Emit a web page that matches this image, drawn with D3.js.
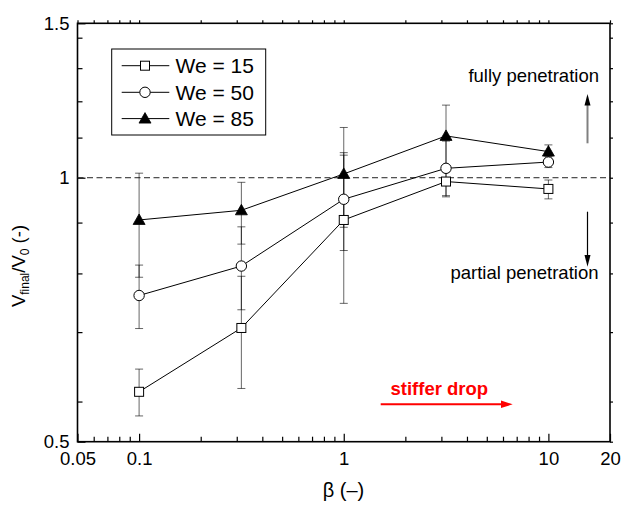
<!DOCTYPE html>
<html>
<head>
<meta charset="utf-8">
<script src="https://cdn.jsdelivr.net/npm/d3@7"></script>
<style>
  html, body { margin: 0; padding: 0; background: #fff; }
  svg { display: block; font-family: "Liberation Sans", Arial, sans-serif; }
</style>
</head>
<body>
<svg id="chart" width="621" height="507"></svg>
<script>
// Stiffness ratio beta and final/initial volume ratio for three Weber numbers
const beta = [0.1, 0.316, 1, 3.16, 10];

const we15 = [0.570, 0.674, 0.895, 0.990, 0.971];
const we15Lo = [0.535, 0.575, 0.719, 0.954, 0.946];
const we15Hi = [0.605, 0.772, 1.068, 1.025, 0.994];

const we50 = [0.734, 0.793, 0.945, 1.025, 1.042];
const we50Lo = [0.673, 0.707, 0.826, 0.951, 1.027];
const we50Hi = [0.795, 0.879, 1.061, 1.101, 1.057];

const we85 = [0.895, 0.918, 1.010, 1.116, 1.071];
const we85Lo = [0.770, 0.840, 0.878, 1.015, 1.052];
const we85Hi = [1.012, 0.988, 1.141, 1.210, 1.090];

const seriesNames = ["We = 15", "We = 50", "We = 85"];
const markerKinds = ["square", "circle", "triangle"];

const xMajor = [0.05, 0.1, 1, 10, 20];
const xMajorLabels = ["0.05", "0.1", "1", "10", "20"];
const xMinor = [0.06, 0.07, 0.08, 0.09, 0.2, 0.3, 0.4, 0.5, 0.6, 0.7, 0.8, 0.9,
                2, 3, 4, 5, 6, 7, 8, 9];
const yMajor = [0.5, 1, 1.5];
const yMajorLabels = ["0.5", "1", "1.5"];
const yMinor = [0.5556, 0.6667, 0.7778, 0.8889, 1.1111, 1.2222, 1.3333, 1.4444];

const svg = d3.select("#chart");
const L = 77.5, R = 610, T = 23.3, B = 441.7;

const x = d3.scaleLog().domain([0.05, 20]).range([L, R]);
const y = d3.scaleLog().domain([0.5, 1.5]).range([B, T]);

const fs = 18.5;

// Axes: major + minor ticks inward on bottom/left, short outward ticks on top/right
function styleAxis(g) {
  g.select(".domain").remove();
  g.selectAll("line").attr("stroke", "#000").attr("stroke-width", 1.2);
  g.selectAll("text").attr("font-size", fs).attr("fill", "#000")
    .attr("font-family", "'Liberation Sans', Arial, sans-serif");
}

svg.append("g").attr("transform", `translate(0,${B})`)
  .call(d3.axisBottom(x).tickValues(xMajor)
    .tickFormat((d, i) => xMajorLabels[i]).tickSizeInner(-8).tickSizeOuter(0).tickPadding(10))
  .call(styleAxis);
svg.append("g").attr("transform", `translate(0,${B})`)
  .call(d3.axisBottom(x).tickValues(xMinor).tickFormat("").tickSizeInner(-5).tickSizeOuter(0))
  .call(styleAxis);

svg.append("g").attr("transform", `translate(${L},0)`)
  .call(d3.axisLeft(y).tickValues(yMajor)
    .tickFormat((d, i) => yMajorLabels[i]).tickSizeInner(-8).tickSizeOuter(0).tickPadding(8))
  .call(styleAxis);
svg.append("g").attr("transform", `translate(${L},0)`)
  .call(d3.axisLeft(y).tickValues(yMinor).tickFormat("").tickSizeInner(-5).tickSizeOuter(0))
  .call(styleAxis);

svg.append("g").attr("transform", `translate(0,${T})`)
  .call(d3.axisTop(x).tickValues(xMajor.concat(xMinor)).tickFormat("").tickSizeInner(3).tickSizeOuter(0))
  .call(styleAxis);
svg.append("g").attr("transform", `translate(${R},0)`)
  .call(d3.axisRight(y).tickValues(yMajor.concat(yMinor)).tickFormat("").tickSizeInner(3).tickSizeOuter(0))
  .call(styleAxis);

// Frame
svg.append("rect").attr("x", L).attr("y", T).attr("width", R - L).attr("height", B - T)
  .attr("fill", "none").attr("stroke", "#000").attr("stroke-width", 1.6);

// Reference line at V_final/V_0 = 1
svg.append("line").attr("x1", L).attr("x2", R).attr("y1", y(1)).attr("y2", y(1))
  .attr("stroke", "#222").attr("stroke-width", 1).attr("stroke-dasharray", "6,3.5");

const series = [
  { v: we15, lo: we15Lo, hi: we15Hi },
  { v: we50, lo: we50Lo, hi: we50Hi },
  { v: we85, lo: we85Lo, hi: we85Hi }
];

// Error bars
const eb = svg.append("g").attr("stroke", "#000").attr("stroke-opacity", 0.6).attr("stroke-width", 1);
series.forEach(s => {
  beta.forEach((b, i) => {
    const cx = x(b);
    eb.append("line").attr("x1", cx).attr("x2", cx).attr("y1", y(s.lo[i])).attr("y2", y(s.hi[i]));
    [s.lo[i], s.hi[i]].forEach(e => {
      eb.append("line").attr("x1", cx - 4).attr("x2", cx + 4).attr("y1", y(e)).attr("y2", y(e));
    });
  });
});

// Connecting lines
const line = d3.line().x((d, i) => x(beta[i])).y(d => y(d));
series.forEach(s => {
  svg.append("path").datum(s.v).attr("d", line)
    .attr("fill", "none").attr("stroke", "#000").attr("stroke-width", 1);
});

function drawMarker(g, kind, cx, cy) {
  if (kind === "square") {
    g.append("rect").attr("x", cx - 4.5).attr("y", cy - 4.5).attr("width", 9).attr("height", 9)
      .attr("fill", "#fff").attr("stroke", "#000").attr("stroke-width", 1);
  } else if (kind === "circle") {
    g.append("circle").attr("cx", cx).attr("cy", cy).attr("r", 5.2)
      .attr("fill", "#fff").attr("stroke", "#000").attr("stroke-width", 1);
  } else {
    g.append("path").attr("d", `M${cx},${cy - 6} L${cx + 6},${cy + 4.5} L${cx - 6},${cy + 4.5} Z`)
      .attr("fill", "#000").attr("stroke", "#000").attr("stroke-width", 0.8);
  }
}

const mk = svg.append("g");
series.forEach((s, k) => {
  s.v.forEach((v, i) => drawMarker(mk, markerKinds[k], x(beta[i]), y(v)));
});

// Legend
const lg = svg.append("g");
lg.append("rect").attr("x", 111.7).attr("y", 49).attr("width", 154).attr("height", 86)
  .attr("fill", "#fff").attr("stroke", "#000").attr("stroke-width", 1);
const legendY = [65.7, 92.3, 118.6];
seriesNames.forEach((name, k) => {
  const ly = legendY[k];
  lg.append("line").attr("x1", 121.7).attr("x2", 169.3).attr("y1", ly).attr("y2", ly)
    .attr("stroke", "#000").attr("stroke-width", 1);
  drawMarker(lg, markerKinds[k], 145, ly);
  lg.append("text").attr("x", 175.5).attr("y", ly + 7.5).attr("font-size", 21)
    .attr("fill", "#000").text(name);
});

// Annotations
svg.append("text").attr("x", 599).attr("y", 82).attr("text-anchor", "end")
  .attr("font-size", fs).attr("fill", "#000").text("fully penetration");
svg.append("text").attr("x", 598.5).attr("y", 279).attr("text-anchor", "end")
  .attr("font-size", fs).attr("fill", "#000").text("partial penetration");

const ax = 587.5;
svg.append("line").attr("x1", ax).attr("x2", ax).attr("y1", 143.3).attr("y2", 104)
  .attr("stroke", "#808080").attr("stroke-width", 2);
svg.append("path").attr("d", `M${ax},94 L${ax + 3},105.5 L${ax - 3},105.5 Z`).attr("fill", "#000");
svg.append("line").attr("x1", ax).attr("x2", ax).attr("y1", 211.7).attr("y2", 256)
  .attr("stroke", "#000").attr("stroke-width", 1.2);
svg.append("path").attr("d", `M${ax},266.7 L${ax + 3},255 L${ax - 3},255 Z`).attr("fill", "#000");

svg.append("text").attr("x", 390.5).attr("y", 395).attr("font-size", fs)
  .attr("font-weight", "bold").attr("fill", "#ff0000").text("stiffer drop");
svg.append("line").attr("x1", 380.7).attr("x2", 503).attr("y1", 404.3).attr("y2", 404.3)
  .attr("stroke", "#ff0000").attr("stroke-width", 2);
svg.append("path").attr("d", `M512.7,404.3 L501,400.6 L501,408 Z`).attr("fill", "#ff0000");

// Axis titles
const yt = svg.append("text").attr("transform", "translate(25,266) rotate(-90)")
  .attr("text-anchor", "middle").attr("font-size", fs).attr("fill", "#000");
yt.append("tspan").text("V");
yt.append("tspan").attr("font-size", 12).attr("dy", 4).text("final");
yt.append("tspan").attr("dy", -4).text("/V");
yt.append("tspan").attr("font-size", 12).attr("dy", 4).text("0");
yt.append("tspan").attr("dy", -4).text(" (-)");

svg.append("text").attr("x", 343.5).attr("y", 497).attr("text-anchor", "middle")
  .attr("font-size", 20).attr("fill", "#000").text("β (–)");
</script>
</body>
</html>
